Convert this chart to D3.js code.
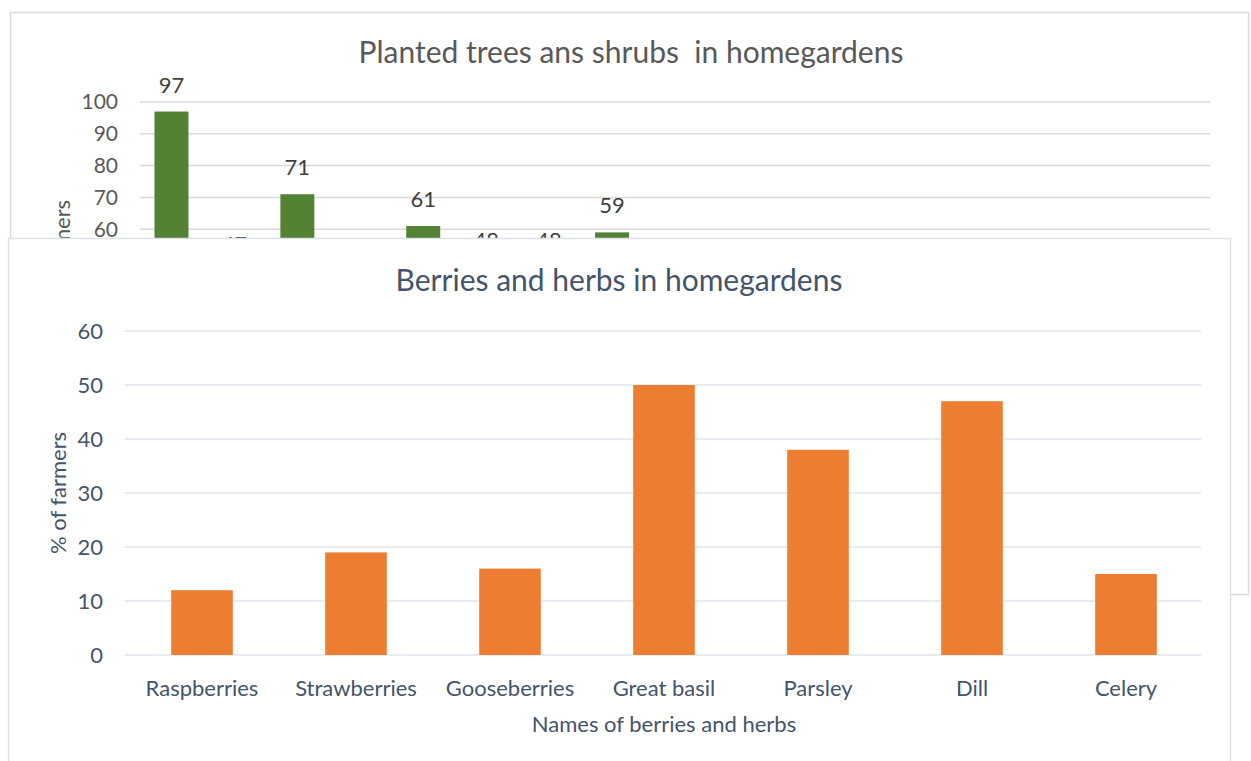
<!DOCTYPE html>
<html>
<head>
<meta charset="utf-8">
<script src="https://cdn.jsdelivr.net/npm/d3@7"></script>
<style>
	body { margin: 0; background: #fff; }
	text { font-family: Lato, "Open Sans", sans-serif; }
</style>
</head>
<body>
<svg id="chart" width="1251" height="761"></svg>
<script>
// background chart (mostly covered)
var treeNames = ["Apple", "Pear", "Plum", "Cherry", "Sour cherry", "Apricot", "Peach", "Walnut",
	"Hazelnut", "Quince", "Mulberry", "Fig", "Currant", "Rose", "Lilac", "Thuja", "Spruce"];
var treeValues = [97, 47, 71, 38, 61, 48, 48, 59, 35, 30, 28, 25, 22, 20, 18, 15, 12];
var treeTicks = [60, 70, 80, 90, 100];

// foreground chart
var herbNames = ["Raspberries", "Strawberries", "Gooseberries", "Great basil", "Parsley", "Dill", "Celery"];
var herbValues = [12, 19, 16, 50, 38, 47, 15];
var herbTicks = [0, 10, 20, 30, 40, 50, 60];

var frontTop = 238;

var svg = d3.select("#chart");
svg.append("rect").attr("width", 1251).attr("height", 761).attr("fill", "#fff");

//--- back chart
var back = svg.append("g");
back.append("rect")
	.attr("x", 10.5).attr("y", 12.5).attr("width", 1238).attr("height", 582)
	.attr("fill", "#fff").attr("stroke", "#d9d9d9").attr("stroke-width", 1.5);

var bx = d3.scaleBand().domain(treeNames).range([140, 1210]).paddingInner(0.46).paddingOuter(0.23);
var by = d3.scaleLinear().domain([0, 100]).range([420, 102]);

back.selectAll(".bgrid").data(treeTicks).enter().append("line")
	.attr("x1", 140).attr("x2", 1210)
	.attr("y1", function(d) { return by(d); }).attr("y2", function(d) { return by(d); })
	.attr("stroke", "#d9d9d9").attr("stroke-width", 1.5);

back.selectAll(".btick").data(treeTicks).enter().append("text")
	.attr("x", 118).attr("y", function(d) { return by(d); })
	.attr("dy", "0.35em").attr("text-anchor", "end")
	.attr("font-size", 21).attr("fill", "#595959")
	.text(function(d) { return d; });

back.selectAll(".bbar").data(treeValues).enter().append("rect")
	.attr("x", function(d, i) { return bx(treeNames[i]); })
	.attr("width", bx.bandwidth())
	.attr("y", function(d) { return by(d); })
	.attr("height", function(d) { return by(0) - by(d); })
	.attr("fill", "#548235");

// only the labels that peek out above the front panel
var shownLabels = treeValues.map(function(d, i) { return {name: treeNames[i], v: d}; })
	.filter(function(d) { return by(d.v) - 35 < frontTop; });

back.selectAll(".blabel").data(shownLabels).enter().append("text")
	.attr("x", function(d) { return bx(d.name) + bx.bandwidth() / 2; })
	.attr("y", function(d) { return by(d.v) - 19; })
	.attr("text-anchor", "middle").attr("font-size", 22).attr("fill", "#404040")
	.text(function(d) { return d.v; });

back.append("text")
	.attr("transform", "translate(70," + ((by(0) + by(100)) / 2) + ")rotate(-90)")
	.attr("text-anchor", "middle").attr("font-size", 22).attr("fill", "#595959")
	.text("% of farmers");

back.append("text")
	.attr("x", 631).attr("y", 63)
	.attr("text-anchor", "middle").attr("font-size", 30).attr("fill", "#595959")
	.attr("xml:space", "preserve")
	.text("Planted trees ans shrubs  in homegardens");

//--- front chart
var front = svg.append("g");
front.append("rect")
	.attr("x", 8.5).attr("y", frontTop + 0.5).attr("width", 1222).attr("height", 540)
	.attr("fill", "#fff").attr("stroke", "#dde2e8").attr("stroke-width", 1.5);

var x = d3.scaleBand().domain(herbNames).range([125, 1203]).paddingInner(0.6).paddingOuter(0.3);
var y = d3.scaleLinear().domain([0, 60]).range([655, 331]);

front.selectAll(".grid").data(herbTicks).enter().append("line")
	.attr("x1", 125).attr("x2", 1201)
	.attr("y1", function(d) { return y(d); }).attr("y2", function(d) { return y(d); })
	.attr("stroke", "#e0e4ea").attr("stroke-width", 1.5);

front.selectAll(".tick").data(herbTicks).enter().append("text")
	.attr("x", 103).attr("y", function(d) { return y(d); })
	.attr("dy", "0.35em").attr("text-anchor", "end")
	.attr("font-size", 22).attr("fill", "#44546a")
	.text(function(d) { return d; });

front.selectAll(".bar").data(herbValues).enter().append("rect")
	.attr("x", function(d, i) { return x(herbNames[i]); })
	.attr("width", x.bandwidth())
	.attr("y", function(d) { return y(d); })
	.attr("height", function(d) { return y(0) - y(d); })
	.attr("fill", "#ed7d31");

front.selectAll(".cat").data(herbNames).enter().append("text")
	.attr("x", function(d) { return x(d) + x.bandwidth() / 2; })
	.attr("y", 696)
	.attr("text-anchor", "middle").attr("font-size", 22).attr("fill", "#44546a")
	.text(function(d) { return d; });

front.append("text")
	.attr("x", 664).attr("y", 732)
	.attr("text-anchor", "middle").attr("font-size", 22).attr("fill", "#44546a")
	.text("Names of berries and herbs");

front.append("text")
	.attr("transform", "translate(66," + ((y(0) + y(60)) / 2) + ")rotate(-90)")
	.attr("text-anchor", "middle").attr("font-size", 22).attr("fill", "#44546a")
	.text("% of farmers");

front.append("text")
	.attr("x", 619).attr("y", 291)
	.attr("text-anchor", "middle").attr("font-size", 30).attr("fill", "#44546a")
	.text("Berries and herbs in homegardens");
</script>
</body>
</html>
